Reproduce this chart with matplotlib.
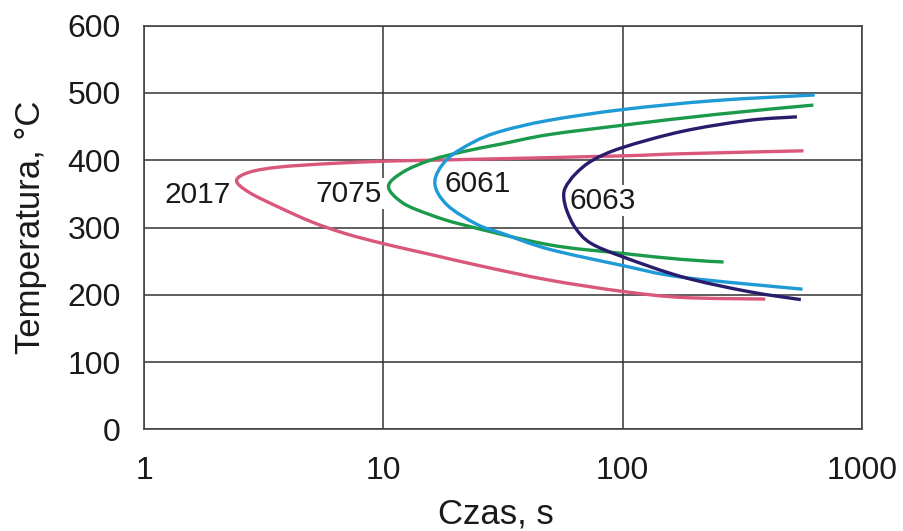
import matplotlib
matplotlib.use("Agg")
import numpy as np
import matplotlib.pyplot as plt
from matplotlib.path import Path
from matplotlib.patches import PathPatch
from matplotlib.ticker import FixedLocator, NullLocator

plt.rcParams['font.family'] = ['Liberation Sans', 'DejaVu Sans']

# ---- data (time in s, temperature in °C), each curve: upper branch end -> nose -> lower branch end
t_2017 = [571, 178, 100, 25.4, 15.7, 10, 5.91, 3.66, 2.75, 2.43,
          2.75, 3.66, 5.04, 6.93, 10, 15.7, 25.4, 48.98, 100, 178, 395]
T_2017 = [414, 409.7, 406.5, 401.6, 400, 398.5, 395, 389.8, 382.2, 369.6,
          352, 330, 308, 291, 276, 260, 243, 222, 205, 196, 193.6]

t_7075 = [628, 244, 100, 48.98, 30.96, 21.7, 15.7, 12.05, 10.5,
          12.05, 15.7, 21.7, 48.98, 100, 178, 264.5]
T_7075 = [482, 468, 452, 438, 424, 413, 400, 382.2, 360.9,
          336.5, 318.9, 303.7, 274.5, 261.5, 252.5, 248.7]

t_6061 = [636, 244, 100, 48.98, 30.96, 23.82, 18.4, 16.4,
          18.4, 24.5, 30.96, 48.98, 100, 178, 565.6]
T_6061 = [497, 488.7, 475.3, 459.2, 443, 427, 401, 367,
          334, 305, 292, 268, 243.5, 226, 208.3]

t_6063 = [535.8, 335.5, 178, 100, 75.0, 63.6, 57.7, 56.8,
          58.6, 63.6, 73.5, 100, 178, 335.5, 556.5]
T_6063 = [464.5, 459.2, 443, 418.9, 400, 379.8, 359.5, 344.4,
          324.2, 299, 276.8, 256.5, 226.5, 204.8, 192.8]

series_names = ["2017", "7075", "6061", "6063"]
series_t = [t_2017, t_7075, t_6061, t_6063]
series_T = [T_2017, T_7075, T_6061, T_6063]
series_colors = ["#d9577a", "#1a9a4a", "#1e9ad6", "#2a1c6c"]

# label anchor positions (time, temperature)
label_t = [1.68, 7.19, 24.9, 82.2]
label_T = [348, 350, 365, 340]

x_ticks = [1, 10, 100, 1000]
x_ticklabels = ["1", "10", "100", "1000"]
y_ticks = [0, 100, 200, 300, 400, 500, 600]


def smooth_path(t, T):
    """Cubic Bezier (Catmull-Rom) path through the data points, in log-time space."""
    x = np.log10(np.asarray(t, float))
    y = np.asarray(T, float)
    P = np.column_stack([x, y])
    n = len(P)
    verts = [P[0]]
    codes = [Path.MOVETO]
    for i in range(n - 1):
        p0 = P[i - 1] if i > 0 else P[i]
        p1 = P[i]
        p2 = P[i + 1]
        p3 = P[i + 2] if i + 2 < n else P[i + 1]
        c1 = p1 + (p2 - p0) / 6.0
        c2 = p2 - (p3 - p1) / 6.0
        verts += [c1, c2, p2]
        codes += [Path.CURVE4] * 3
    V = np.array(verts)
    V[:, 0] = 10 ** V[:, 0]
    return Path(V, codes)


fig = plt.figure(figsize=(9.04, 5.31), dpi=100)
ax = fig.add_axes([144.3 / 904, (531 - 429.3) / 531,
                   (861.7 - 144.3) / 904, (429.3 - 25.7) / 531])

ax.set_xscale('log')
ax.set_xlim(1, 1000)
ax.set_ylim(0, 600)

for t, T, c in zip(series_t, series_T, series_colors):
    patch = PathPatch(smooth_path(t, T), facecolor='none', edgecolor=c, lw=2.4,
                      capstyle='butt', joinstyle='round', zorder=4)
    ax.add_patch(patch)

for name, lt, lT in zip(series_names, label_t, label_T):
    ax.text(lt, lT, name, fontsize=21.5, ha='center', va='center', color='#1a1a1a',
            bbox=dict(facecolor='white', edgecolor='none', pad=1.0), zorder=3)

ax.xaxis.set_major_locator(FixedLocator(x_ticks))
ax.xaxis.set_minor_locator(NullLocator())
ax.set_xticklabels(x_ticklabels)
ax.set_yticks(y_ticks)
ax.set_axisbelow(True)
ax.grid(True, color='#333333', lw=1.1)
for s in ax.spines.values():
    s.set_color('#444444')
    s.set_linewidth(1.2)
ax.tick_params(axis='both', length=0, labelsize=23, colors='#1a1a1a')
ax.tick_params(axis='x', pad=19)
ax.tick_params(axis='y', pad=17)

ax.set_xlabel("Czas, s", fontsize=25, color='#1a1a1a')
ax.set_ylabel("Temperatura, \u00b0C", fontsize=25, color='#1a1a1a')
ax.xaxis.set_label_coords(0.49, -0.168)
ax.yaxis.set_label_coords(-0.136, 0.5)

fig.savefig("out.png", dpi=100)
